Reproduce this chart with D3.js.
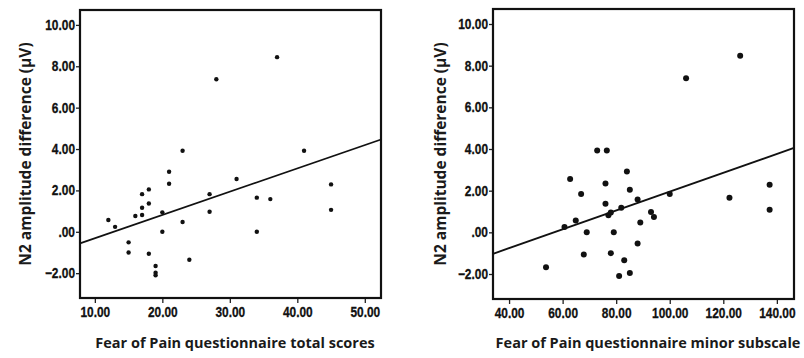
<!DOCTYPE html>
<html><head><meta charset="utf-8">
<script src="https://cdn.jsdelivr.net/npm/d3@7"></script>
<style>body{margin:0;background:#fff}svg{display:block}
.tk{font-family:'Liberation Sans',Arial,sans-serif;font-size:14px;font-weight:700;fill:#111;stroke:#111;stroke-width:0.3px}
</style>
</head><body>
<svg id="c" width="804" height="358"></svg>
<script>
// ---- data ----
const totalScores = [12,13,15,15,16,17,17,17,18,18,18,19,19,19,20,20,21,21,23,23,24,27,27,28,31,34,34,36,37,41,45,45];
const totalN2 =     [0.57,0.24,-0.51,-1.0,0.76,1.82,1.16,0.81,2.05,1.37,-1.06,-1.65,-1.98,-2.1,0.94,0.0,2.9,2.32,3.92,0.47,-1.35,1.82,0.97,7.37,2.55,1.65,0.0,1.58,8.44,3.92,2.29,1.06];
const minorScores = [53.8,60.7,62.8,64.9,66.9,67.9,69,72.9,76.5,76,76,77.1,78,78,79.1,81.1,81.9,83,84,85.1,85.1,88,88,89,93,94.1,100,106.1,122.3,126.3,137.3,137.3];
const minorN2 =     [-1.68,0.26,2.56,0.57,1.84,-1.06,0.0,3.93,3.93,2.34,1.37,0.82,0.95,-1.0,0.0,-2.1,1.18,-1.34,2.92,2.05,-1.95,1.58,-0.53,0.47,0.98,0.74,1.84,7.4,1.66,8.48,2.29,1.08];
const fitTotal = [[7.8,-0.56],[52.4,4.46]];
const fitMinor = [[34.0,-1.03],[146.4,4.05]];
const yTicks = [-2,0,2,4,6,8,10];
const xTicksTotal = [10,20,30,40,50];
const xTicksMinor = [40,60,80,100,120,140];
const yDomain = [-3.2,10.72];
const xDomainTotal = [7.8,52.4];
const xDomainMinor = [34.0,146.4];
const yTitle = "N2 amplitude difference (µV)";
const xTitleTotal = "Fear of Pain questionnaire total scores";
const xTitleMinor = "Fear of Pain questionnaire minor subscale";

const svg = d3.select("#c");
const fmt = v => v === 0 ? ".00" : d3.format(".2f")(v);

function panel(o){
  const x = d3.scaleLinear().domain(o.xd).range([o.left,o.right]);
  const y = d3.scaleLinear().domain(yDomain).range([o.bottom,o.top]);
  const g = svg.append("g");
  const ya = g.append("g").attr("transform",`translate(${o.left},0)`)
    .call(d3.axisLeft(y).tickValues(yTicks).tickFormat(fmt).tickSize(4).tickPadding(1));
  const xa = g.append("g").attr("transform",`translate(0,${o.bottom})`)
    .call(d3.axisBottom(x).tickValues(o.xt).tickFormat(fmt).tickSize(5).tickPadding(3));
  [ya,xa].forEach(a=>{
    a.select(".domain").remove();
    a.selectAll(".tick line").attr("stroke","#222").attr("stroke-width",1.3);
  });
  ya.selectAll(".tick text").attr("class","tk").attr("fill",null)
    .attr("x",0).attr("transform","translate(-5,0) scale(0.85,1)");
  xa.selectAll(".tick text").attr("class","tk").attr("fill",null)
    .attr("dy",null).attr("y",null).attr("transform","translate(0,18.5) scale(0.85,1)");
  g.append("rect").attr("x",o.left).attr("y",o.top)
    .attr("width",o.right-o.left).attr("height",o.bottom-o.top)
    .attr("fill","none").attr("stroke","#111").attr("stroke-width",2.2);
  g.append("line")
    .attr("x1",x(o.fit[0][0])).attr("y1",y(o.fit[0][1]))
    .attr("x2",x(o.fit[1][0])).attr("y2",y(o.fit[1][1]))
    .attr("stroke","#111").attr("stroke-width",1.8);
  g.selectAll("circle.p").data(o.xs.map((v,i)=>[v,o.ys[i]])).join("circle")
    .attr("cx",d=>x(d[0])).attr("cy",d=>y(d[1])).attr("r",o.r).attr("fill","#111");
  g.append("text").attr("x",o.xtx).attr("y",348).attr("text-anchor","middle")
    .style("font-family","'Open Sans',sans-serif").style("font-weight","700").style("font-size","14.5px")
    .attr("fill","#1a1a1a").text(o.xtitle);
  g.append("text").attr("transform",`translate(${o.ytx},${(o.top+o.bottom)/2}) rotate(-90)`)
    .attr("text-anchor","middle")
    .style("font-family","'Open Sans',sans-serif").style("font-weight","700").style("font-size","15.5px")
    .attr("fill","#1a1a1a").text(yTitle);
}

panel({left:80,right:381,top:10,bottom:298,xd:xDomainTotal,xt:xTicksTotal,
  xs:totalScores,ys:totalN2,fit:fitTotal,r:2.2,xtitle:xTitleTotal,xtx:235,ytx:31});
panel({left:493,right:794,top:9,bottom:299,xd:xDomainMinor,xt:xTicksMinor,
  xs:minorScores,ys:minorN2,fit:fitMinor,r:3,xtitle:xTitleMinor,xtx:648,ytx:446});
</script>
</body></html>
